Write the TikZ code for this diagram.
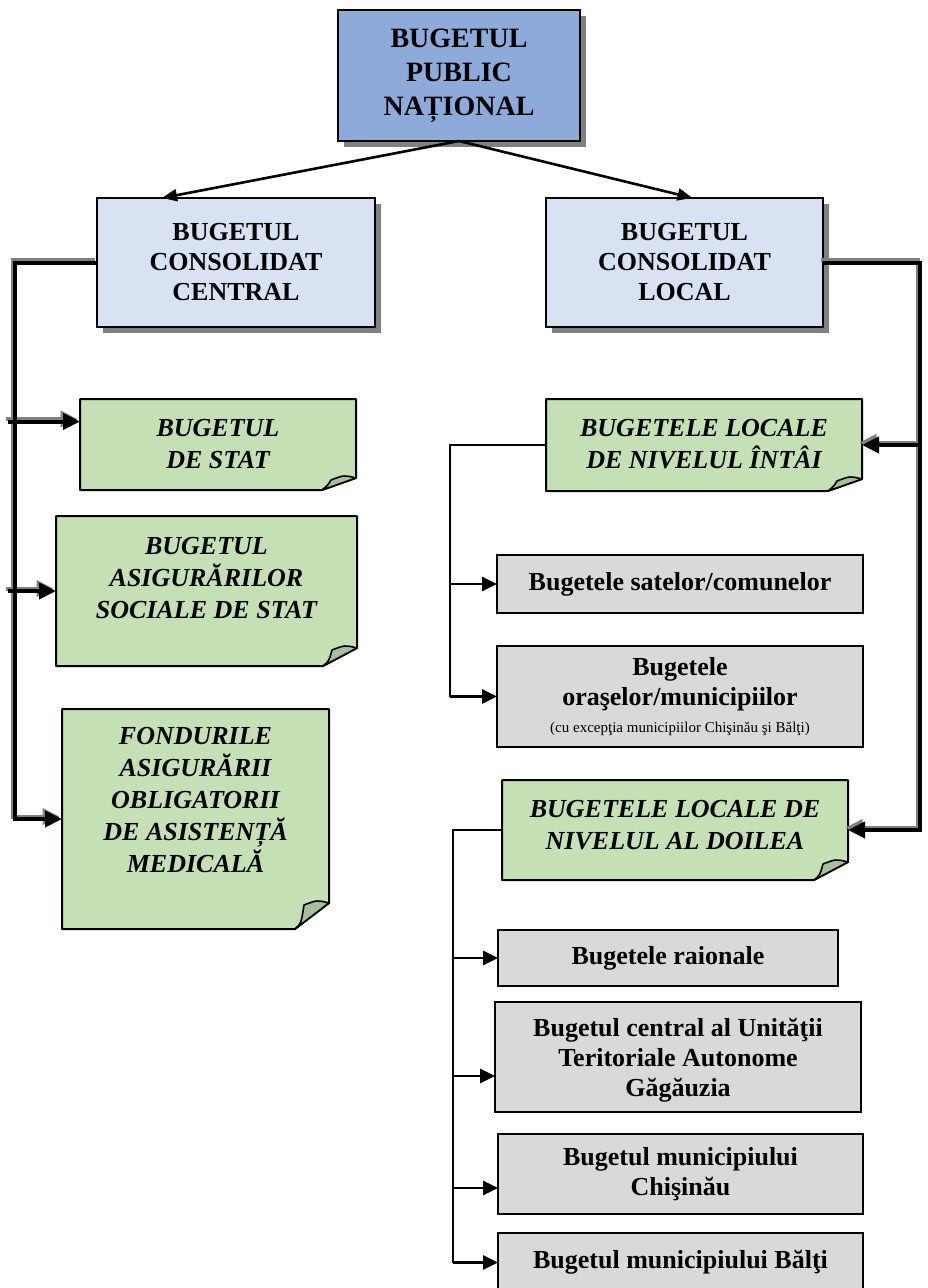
\documentclass[tikz,border=0pt]{standalone}
\usepackage{fontspec}
\setmainfont{Liberation Serif}
\usetikzlibrary{arrows.meta,shadows}

\definecolor{pubblue}{HTML}{8EAADB}
\definecolor{consblue}{HTML}{D9E2F3}
\definecolor{notegreen}{HTML}{C5E0B4}
\definecolor{foldgreen}{HTML}{A8BE9C}
\definecolor{boxgray}{HTML}{D9D9D9}

\tikzset{
  pubbox/.style={draw, line width=2pt, fill=pubblue, align=center, inner sep=0pt, outer sep=0pt,
    font=\fontsize{28}{34}\selectfont\bfseries,
    drop shadow={shadow xshift=6pt, shadow yshift=-6pt, fill=black!50, opacity=1}},
  consbox/.style={pubbox, fill=consblue, font=\fontsize{26}{30}\selectfont\bfseries},
  notebox/.style={inner sep=0pt, outer sep=0pt},
  notetxt/.style={align=center, font=\fontsize{26}{32}\selectfont\bfseries\itshape},
  graybox/.style={draw, line width=2pt, fill=boxgray, align=center, inner sep=0pt, outer sep=0pt,
    font=\fontsize{26}{30}\selectfont\bfseries},
  toparr/.style={line width=2.6pt, -{Triangle[length=15pt,width=12pt]}},
  thinline/.style={line width=2.8pt},
  thinarr/.style={thinline, -{Triangle[length=15pt,width=14pt]}},
  dbl/.style={line width=4pt},
  dblarr/.style={dbl, -{Triangle[length=17pt,width=16pt]}}
}

% folded note: #1 node, #2 height of the fold
\newcommand\notefold[2]{%
  \filldraw[fill=notegreen, line width=2pt, line join=round]
    (#1.north west) -- (#1.north east) -- ([yshift=#2]#1.south east)
    -- ([xshift=-34pt]#1.south east) -- (#1.south west) -- cycle;
  \filldraw[fill=foldgreen, line width=1.6pt, line join=round]
    ([yshift=#2]#1.south east) .. controls ([xshift=-12pt,yshift=#2+3pt]#1.south east)
    .. ([xshift=-25pt,yshift=#2-2pt]#1.south east) .. controls ([xshift=-28pt,yshift=5pt]#1.south east)
    .. ([xshift=-34pt]#1.south east) -- cycle;
}

\begin{document}
\begin{tikzpicture}[x=1pt,y=-1pt]
\useasboundingbox (0,0) rectangle (927,1288);

% top level
\node[pubbox, minimum width=242pt, minimum height=131pt] (pub) at (459,75.5) {BUGETUL\\PUBLIC\\NAȚIONAL};
\node[consbox, minimum width=278pt, minimum height=129pt] (central) at (236,262.5) {BUGETUL\\CONSOLIDAT\\CENTRAL};
\node[consbox, minimum width=277pt, minimum height=129pt] (local) at (684.5,262.5) {BUGETUL\\CONSOLIDAT\\LOCAL};

\draw[toparr] (pub.south) -- ([xshift=-74pt]central.north);
\draw[toparr] (pub.south) -- ([xshift=8pt]local.north);

% notes
\node[notebox, minimum width=276pt, minimum height=91pt] (stat) at (218,444.5) {};
\node[notebox, minimum width=301pt, minimum height=150pt] (asig) at (206.5,591) {};
\node[notebox, minimum width=267pt, minimum height=220pt] (fond) at (195.5,819) {};
\node[notebox, minimum width=316pt, minimum height=92pt] (niv1) at (704,445) {};
\node[notebox, minimum width=346pt, minimum height=100pt] (niv2) at (675,830) {};
\notefold{stat}{12pt}
\notefold{asig}{18pt}
\notefold{fond}{26pt}
\notefold{niv1}{12pt}
\notefold{niv2}{18pt}
\node[notetxt] (stat-t) at (stat.center) {BUGETUL\\DE STAT};
\node[notetxt] (asig-t) at ([yshift=13pt]asig.center) {BUGETUL\\ASIGURĂRILOR\\SOCIALE DE STAT};
\node[notetxt] (fond-t) at ([yshift=19pt]fond.center) {FONDURILE\\ASIGURĂRII\\OBLIGATORII\\DE ASISTENȚĂ\\MEDICALĂ};
\node[notetxt] (niv1-t) at ([yshift=1pt]niv1.center) {BUGETELE LOCALE\\DE NIVELUL ÎNTÂI};
\node[notetxt] (niv2-t) at ([yshift=5pt]niv2.center) {BUGETELE LOCALE DE\\NIVELUL AL DOILEA};

% gray boxes
\node[graybox, minimum width=366pt, minimum height=58pt] (sate) at (680,584) {Bugetele satelor/comunelor};
\node[graybox, minimum width=366pt, minimum height=101pt] (oras) at (680,696.5) {Bugetele\\oraşelor/municipiilor\\[-3pt]{\fontsize{15}{17}\selectfont\mdseries (cu excepţia municipiilor Chişinău şi Bălţi)}};
\node[graybox, minimum width=340pt, minimum height=56pt] (raion) at (668,958) {Bugetele raionale};
\node[graybox, minimum width=366pt, minimum height=110pt, text depth=-10pt] (gag) at (678,1057) {Bugetul central al Unităţii\\Teritoriale Autonome\\Găgăuzia};
\node[graybox, minimum width=365pt, minimum height=80pt] (chis) at (680.5,1174) {Bugetul municipiului\\Chişinău};
\node[graybox, minimum width=365pt, minimum height=59pt] (balti) at (680.5,1262.5) {Bugetul municipiului Bălţi};

% thin connectors
\coordinate (lv1) at (450,0);
\coordinate (lv2) at (453,0);
\draw[thinline] (niv1.west) -| (lv1 |- oras.west);
\draw[thinarr] (lv1 |- sate.west) -- (sate.west);
\draw[thinarr] (lv1 |- oras.west) -- (oras.west);
\draw[thinline] (niv2.west) -| (lv2 |- balti.west);
\draw[thinarr] (lv2 |- raion.west) -- (raion.west);
\draw[thinarr] ([yshift=-19pt]lv2 |- gag.west) -- ([yshift=-19pt]gag.west);
\draw[thinarr] ([yshift=-14pt]lv2 |- chis.west) -- ([yshift=-14pt]chis.west);
\draw[thinarr] (lv2 |- balti.west) -- (balti.west);

% double connectors, gray copy first
\coordinate (lb) at (15,0);
\coordinate (rb) at (920,0);
\foreach \col/\sh in {black!50/2.5pt, black/0pt}{
  \begin{scope}[transform canvas={shift={(-\sh,\sh)}}, color=\col]
    \draw[dbl] (central.west) -| (lb |- fond.west);
    \draw[dblarr] ([xshift=-7pt,yshift=23pt]lb |- stat.west) -- ([yshift=23pt]stat.west);
    \draw[dblarr] ([xshift=-7pt]lb |- asig.west) -- (asig.west);
    \draw[dblarr] ([xshift=-2pt]lb |- fond.west) -- (fond.west);
    \draw[dbl] (local.east) -| (rb |- niv2.east);
    \draw[dblarr] ([xshift=2pt]rb |- niv1.east) -- (niv1.east);
    \draw[dblarr] ([xshift=2pt]rb |- niv2.east) -- (niv2.east);
  \end{scope}
}
\end{tikzpicture}
\end{document}
